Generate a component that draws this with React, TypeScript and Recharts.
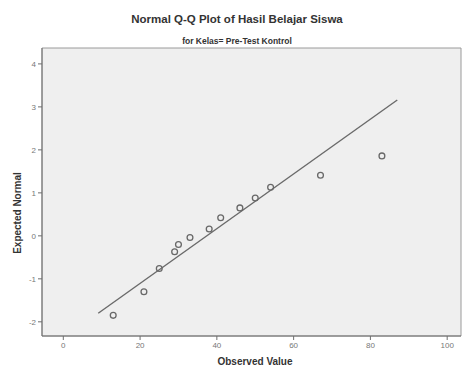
import {
  ReferenceArea,
  ReferenceLine,
  Scatter,
  ScatterChart,
  XAxis,
  YAxis,
} from "recharts";

const observed = [13, 21, 25, 29, 30, 33, 38, 41, 46, 50, 54, 67, 83];
const expected = [-1.85, -1.3, -0.76, -0.37, -0.2, -0.04, 0.16, 0.42, 0.65, 0.88, 1.13, 1.41, 1.86];
const lineStart = { x: 9.1, y: -1.8 };
const lineEnd = { x: 87, y: 3.16 };
const xTicks = [0, 20, 40, 60, 80, 100];
const yTicks = [-2, -1, 0, 1, 2, 3, 4];

const points = observed.map((x, i) => ({ x, y: expected[i] }));

const X_MIN = -5.55;
const X_MAX = 103.6;
const Y_MIN = -2.33;
const Y_MAX = 4.37;

const font = "'Liberation Sans', Arial, sans-serif";

function Ring(props: { cx?: number; cy?: number }) {
  const { cx = 0, cy = 0 } = props;
  return <circle cx={cx} cy={cy} r={2.9} fill="none" stroke="#686868" strokeWidth={1.3} />;
}

export default function App() {
  return (
    <div style={{ position: "relative", width: 463, height: 368, background: "#fff", fontFamily: font }}>
      <style>{"body{margin:0}"}</style>
      <div
        style={{
          position: "absolute",
          top: 13,
          left: 0,
          width: 474,
          textAlign: "center",
          fontSize: 11.5,
          fontWeight: "bold",
          color: "#333",
        }}
      >
        Normal Q-Q Plot of Hasil Belajar Siswa
      </div>
      <div
        style={{
          position: "absolute",
          top: 36,
          left: 0,
          width: 474,
          textAlign: "center",
          fontSize: 8.5,
          fontWeight: "bold",
          color: "#333",
        }}
      >
        for Kelas= Pre-Test Kontrol
      </div>
      <div
        style={{
          position: "absolute",
          top: 356,
          left: 0,
          width: 510,
          textAlign: "center",
          fontSize: 10,
          fontWeight: "bold",
          color: "#333",
        }}
      >
        Observed Value
      </div>
      <div
        style={{
          position: "absolute",
          left: 17,
          top: 213,
          transform: "translate(-50%, -50%) rotate(-90deg)",
          whiteSpace: "nowrap",
          fontSize: 10,
          fontWeight: "bold",
          color: "#333",
        }}
      >
        Expected Normal
      </div>
      <ScatterChart width={463} height={368} margin={{ top: 48, right: 2, bottom: 0, left: 0 }}>
        <ReferenceArea
          x1={X_MIN}
          x2={X_MAX}
          y1={Y_MIN}
          y2={Y_MAX}
          fill="#efefef"
          fillOpacity={1}
          stroke="#9a9a9a"
          strokeWidth={1}
          ifOverflow="visible"
        />
        <XAxis
          type="number"
          dataKey="x"
          domain={[X_MIN, X_MAX]}
          ticks={xTicks}
          allowDataOverflow
          height={32}
          stroke="#6e6e6e"
          tickSize={4}
          tick={{ fill: "#777", fontSize: 8, fontFamily: font }}
          tickMargin={2}
        />
        <YAxis
          type="number"
          dataKey="y"
          domain={[Y_MIN, Y_MAX]}
          ticks={yTicks}
          allowDataOverflow
          width={42}
          stroke="#6e6e6e"
          tickSize={4}
          tick={{ fill: "#777", fontSize: 8, fontFamily: font }}
          tickMargin={2}
        />
        <ReferenceLine
          segment={[lineStart, lineEnd]}
          stroke="#6a6a6a"
          strokeWidth={1.4}
          ifOverflow="visible"
        />
        <Scatter data={points} shape={<Ring />} isAnimationActive={false} />
      </ScatterChart>
    </div>
  );
}
